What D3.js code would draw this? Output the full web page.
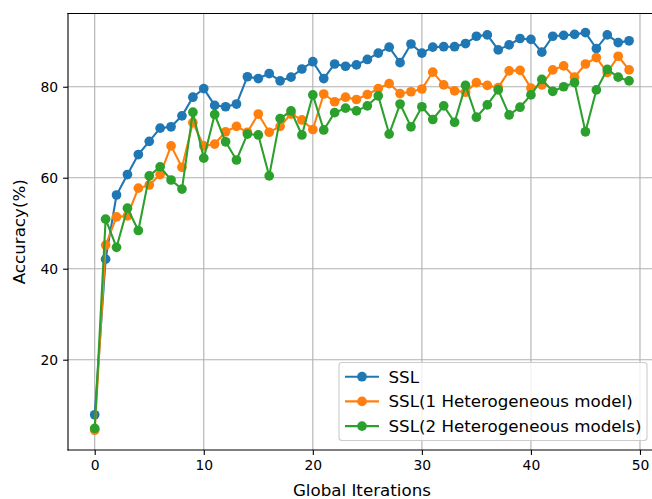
<!DOCTYPE html>
<html><head><meta charset="utf-8">
<script src="https://cdn.jsdelivr.net/npm/d3@7"></script>
<style>body{margin:0;background:#fff}svg{display:block}text{font-family:"DejaVu Sans",sans-serif;fill:#000}</style>
</head><body><svg id="c" width="652" height="499"></svg>
<script>
const iterations = d3.range(0, 50);
const seriesNames = ["SSL", "SSL(1 Heterogeneous model)", "SSL(2 Heterogeneous models)"];
const seriesColors = ["#1f77b4", "#ff7f0e", "#2ca02c"];
const ssl = [7.9,42.1,56.2,60.7,65.1,68.0,70.9,71.2,73.6,77.7,79.6,75.9,75.6,76.2,82.2,81.8,82.9,81.3,82.1,83.9,85.5,81.8,85.0,84.5,84.8,86.0,87.4,88.7,85.3,89.4,87.4,88.7,88.8,88.8,89.5,91.1,91.4,88.1,89.2,90.6,90.4,87.6,91.1,91.3,91.5,91.9,88.4,91.4,89.7,90.1];
const ssl1 = [4.5,45.2,51.4,51.6,57.7,58.4,60.7,67.0,62.3,72.1,67.0,67.4,70.1,71.3,70.0,74.0,70.0,71.3,74.0,72.7,70.6,78.4,76.7,77.7,77.2,78.3,79.6,80.7,78.5,78.9,79.5,83.2,80.4,79.1,78.8,80.9,80.3,79.8,83.5,83.6,79.7,80.4,83.7,84.6,82.1,85.0,86.4,83.1,86.7,83.7];
const ssl2 = [4.9,50.9,44.7,53.3,48.4,60.4,62.4,59.5,57.5,74.4,64.3,73.9,67.9,63.9,69.6,69.4,60.4,73.0,74.7,69.4,78.2,70.5,74.3,75.3,74.7,75.8,78.0,69.6,76.2,71.2,75.6,72.8,75.8,72.2,80.3,73.3,76.0,79.3,73.8,75.5,78.2,81.6,79.0,80.0,80.9,70.1,79.3,83.8,82.1,81.3];
const xTicks = [0, 10, 20, 30, 40, 50];
const yTicks = [20, 40, 60, 80];
const xLabel = "Global Iterations";
const yLabel = "Accuracy(%)";

const allSeries = [ssl, ssl1, ssl2];
const svg = d3.select("#c");
const L = 68, R = 655.8, T = 13.5, B = 450;
const x = d3.scaleLinear().domain([-2.45, 51.45]).range([L, R]);
const y = d3.scaleLinear().domain([0.15, 96.1]).range([B, T]);
const MR = 4.85;

// grid
svg.append("g").selectAll("line").data(xTicks).join("line")
  .attr("x1", d => x(d)).attr("x2", d => x(d)).attr("y1", T).attr("y2", B)
  .attr("stroke", "#b0b0b0").attr("stroke-width", 1.1);
svg.append("g").selectAll("line").data(yTicks).join("line")
  .attr("y1", d => y(d)).attr("y2", d => y(d)).attr("x1", L).attr("x2", R)
  .attr("stroke", "#b0b0b0").attr("stroke-width", 1.1);

// axes
const xAxis = d3.axisBottom(x).tickValues(xTicks).tickSize(4.9).tickPadding(4.9).tickFormat(d3.format("d"));
const gx = svg.append("g").attr("transform", `translate(0,${B})`).call(xAxis);
const yAxis = d3.axisLeft(y).tickValues(yTicks).tickSize(4.9).tickPadding(4.9).tickFormat(d3.format("d"));
const gy = svg.append("g").attr("transform", `translate(${L},0)`).call(yAxis);
[gx, gy].forEach(g => {
  g.select(".domain").remove();
  g.selectAll("line").attr("stroke", "#000").attr("stroke-width", 1.1);
  g.selectAll("text").attr("font-size", "13.9px").attr("font-family", "DejaVu Sans").attr("fill", "#000");
});

svg.append("clipPath").attr("id", "clp").append("rect").attr("x", L).attr("y", T).attr("width", R - L).attr("height", B - T);

const line = d3.line().x((d, i) => x(iterations[i])).y(d => y(d));
allSeries.forEach((s, k) => {
  const g = svg.append("g").attr("clip-path", "url(#clp)");
  g.append("path").datum(s).attr("d", line).attr("fill", "none")
    .attr("stroke", seriesColors[k]).attr("stroke-width", 2.08).attr("stroke-linejoin", "round").attr("stroke-linecap", "square");
  g.selectAll("circle").data(s).join("circle")
    .attr("cx", (d, i) => x(iterations[i])).attr("cy", d => y(d)).attr("r", MR)
    .attr("fill", seriesColors[k]);
});

// spines
const sp = [[L, T, L, B], [L, B, R, B], [L, T, R, T], [R, T, R, B]];
svg.append("g").selectAll("line").data(sp).join("line")
  .attr("x1", d => d[0]).attr("y1", d => d[1]).attr("x2", d => d[2]).attr("y2", d => d[3])
  .attr("stroke", "#000").attr("stroke-width", 1.1).attr("stroke-linecap", "square");

// labels
svg.append("text").attr("x", (L + R) / 2).attr("y", 496).attr("text-anchor", "middle").attr("font-size", "16.7px").text(xLabel);
svg.append("text").attr("transform", `translate(24.5,${(T + B) / 2}) rotate(-90)`).attr("text-anchor", "middle").attr("font-size", "16.7px").text(yLabel);

// legend
const lg = svg.append("g");
lg.append("rect").attr("x", 339).attr("y", 362.5).attr("width", 308).attr("height", 78).attr("rx", 3)
  .attr("fill", "#fff").attr("fill-opacity", 0.8).attr("stroke", "#cccccc").attr("stroke-width", 1.1);
seriesNames.forEach((n, k) => {
  const yy = 376.7 + k * 24.7;
  lg.append("line").attr("x1", 345).attr("x2", 379).attr("y1", yy).attr("y2", yy).attr("stroke", seriesColors[k]).attr("stroke-width", 2.08);
  lg.append("circle").attr("cx", 362).attr("cy", yy).attr("r", MR).attr("fill", seriesColors[k]);
  lg.append("text").attr("x", 388.5).attr("y", yy).attr("dy", "0.36em").attr("font-size", "16.7px").text(n);
});
</script></body></html>
